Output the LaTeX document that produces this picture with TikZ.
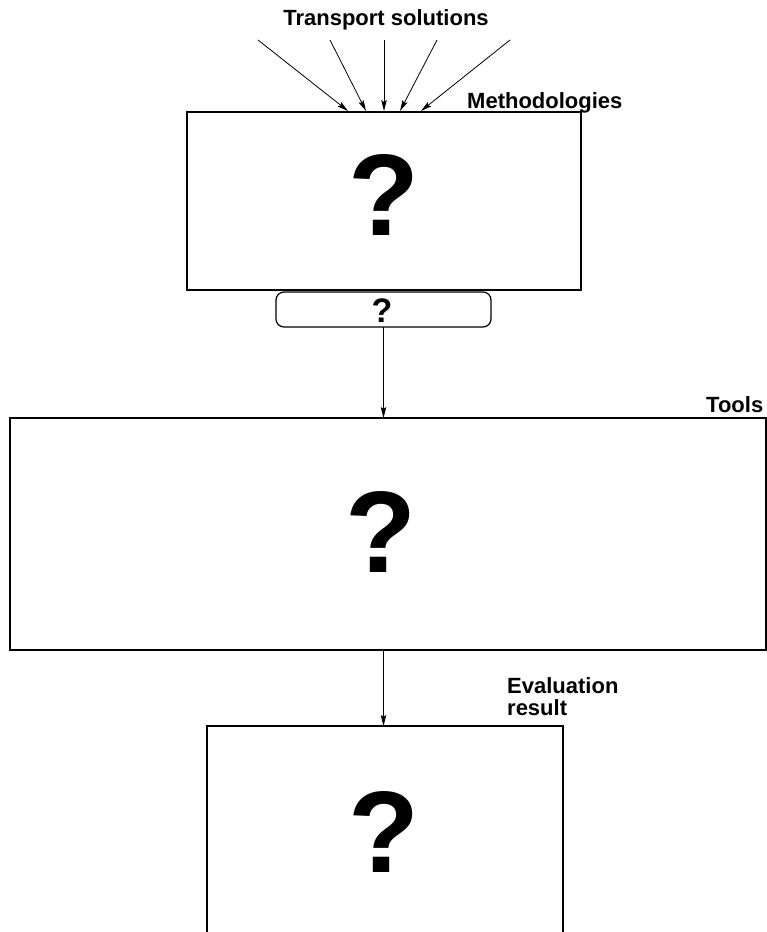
\documentclass[tikz,border=0pt]{standalone}
\usepackage{fontspec}
\setmainfont{Liberation Sans}
\usetikzlibrary{arrows.meta}
\begin{document}
\begin{tikzpicture}[x=1pt,y=-1pt,
  box/.style={draw, line width=1.2pt, inner sep=0pt, outer sep=0pt, rectangle},
  lbl/.style={font=\bfseries\fontsize{22}{22.5}\selectfont, inner sep=0pt, anchor=base west},
  qm/.style={font=\bfseries\fontsize{116}{116}\selectfont, inner sep=0pt},
  conn/.style={-{Stealth[length=11pt,width=5.5pt,inset=2pt]}, line width=0.8pt}]
\useasboundingbox (0,0) rectangle (767,932);
\clip (0,0) rectangle (767,932);
% boxes
\node[box, minimum width=394pt, minimum height=178pt] (meth) at (384,201) {};
\node[box, rounded corners=8pt, minimum width=215pt, minimum height=35pt] (sel) at (383.5,309.5) {};
\node[box, minimum width=756pt, minimum height=232pt] (tools) at (388,534) {};
\node[box, minimum width=356pt, minimum height=212pt] (eval) at (385,832) {};
% question marks
\node[qm] (q1) at (384,195) {?};
\node[font=\bfseries\fontsize{34}{34}\selectfont, inner sep=0pt] (q2) at (382,311) {?};
\node[qm] (q3) at (381,532) {?};
\node[qm] (q4) at (384,832) {?};
% labels
\node[lbl, anchor=base] (ts) at (386,25) {Transport solutions};
\node[lbl] (mlab) at (467,108) {Methodologies};
\node[lbl] (tlab) at (706,412) {Tools};
\node[lbl, anchor=north west, align=left] (elab) at (507,677) {Evaluation\\result};
% incoming arrows
\coordinate (s1) at (258,40);
\coordinate (s2) at (330,40);
\coordinate (s3) at (384,40);
\coordinate (s4) at (437,40);
\coordinate (s5) at (510,40);
\coordinate (e1) at (348,111);
\coordinate (e2) at (366,111);
\coordinate (e3) at (384,111);
\coordinate (e4) at (400,111);
\coordinate (e5) at (421,111);
\foreach \i in {1,...,5} \draw[conn] (s\i) -- (e\i);
% connectors
\draw[conn] (sel.south) -- (sel.south |- tools.north);
\draw[conn] (sel.south |- tools.south) -- (sel.south |- eval.north);
\end{tikzpicture}
\end{document}
